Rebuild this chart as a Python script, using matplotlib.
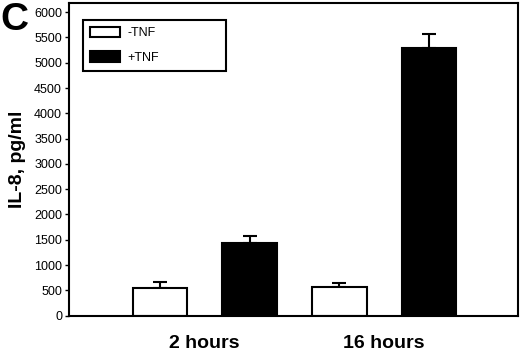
import numpy as np
import matplotlib.pyplot as plt

plt.rcParams['font.family'] = ['Liberation Sans', 'DejaVu Sans']

# IL-8 secretion with and without TNF
groups = ["2 hours", "16 hours"]
minus_tnf = [540, 560]
minus_err = [130, 90]
plus_tnf = [1430, 5290]
plus_err = [150, 280]

fig = plt.figure(figsize=(5.2, 3.53), dpi=100)
ax = fig.add_axes([0.1327, 0.1057, 0.8633, 0.8858])

x = np.arange(len(groups))
w = 0.304
lw = 1.5
ax.bar(x - 0.25, minus_tnf, w, color="white", edgecolor="black", linewidth=lw,
       label="-TNF", zorder=2)
ax.bar(x + 0.25, plus_tnf, w, color="black", edgecolor="black", linewidth=lw,
       label="+TNF", zorder=2)
ax.errorbar(x - 0.25, minus_tnf, yerr=[np.zeros(2), minus_err], fmt="none",
            ecolor="black", elinewidth=lw, capsize=5, capthick=lw, zorder=1)
ax.errorbar(x + 0.25, plus_tnf, yerr=[np.zeros(2), plus_err], fmt="none",
            ecolor="black", elinewidth=lw, capsize=5, capthick=lw, zorder=1)

ax.set_xlim(-0.756, 1.745)
ax.set_ylim(0, 6180)
ax.set_yticks(np.arange(0, 6001, 500))
ax.tick_params(axis="y", labelsize=9, length=3, width=1, pad=2)
ax.set_xticks(x)
ax.set_xticklabels(groups, fontsize=14, fontweight="bold")
ax.tick_params(axis="x", length=0, pad=14)
for s in ax.spines.values():
    s.set_linewidth(1.5)

ax.set_ylabel("IL-8, pg/ml", fontsize=14, fontweight="bold", labelpad=6)

leg = ax.legend(loc="upper left", bbox_to_anchor=(0.031, 0.9456, 0.318, 0.0),
                mode="expand", fontsize=9, framealpha=1,
                frameon=True, fancybox=False, edgecolor="black",
                handlelength=2.4, handleheight=0.9, handletextpad=0.6,
                borderpad=0.55, labelspacing=0.95, borderaxespad=0)
leg.get_frame().set_linewidth(1.5)

fig.text(0.0, 0.995, "C", fontsize=28, fontweight="bold", va="top", ha="left")

fig.savefig("out.png", dpi=100)
